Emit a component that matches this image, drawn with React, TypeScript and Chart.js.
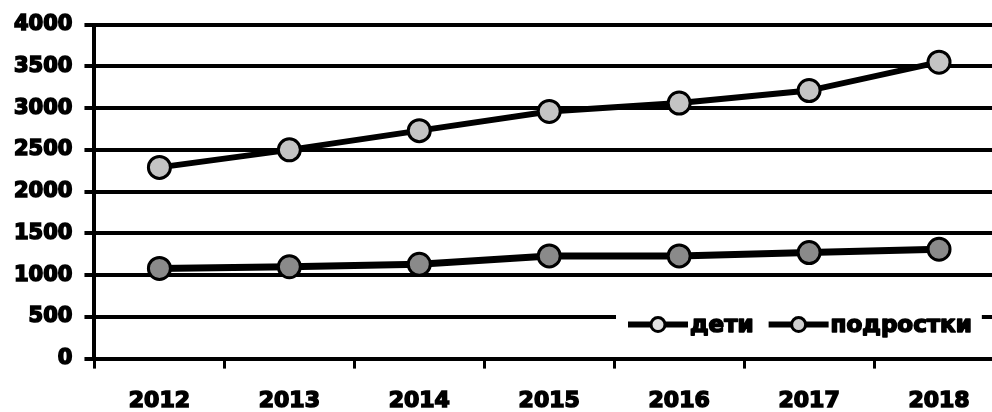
import React, { useEffect, useRef } from "react";
import { Chart, registerables } from "chart.js";

Chart.register(...registerables);

const years = ["2012", "2013", "2014", "2015", "2016", "2017", "2018"];
const deti = [2290, 2500, 2730, 2960, 3060, 3210, 3550];
const podrostki = [1080, 1100, 1130, 1230, 1230, 1270, 1310];
const seriesNames = ["дети", "подростки"];
const yTicks = [0, 500, 1000, 1500, 2000, 2500, 3000, 3500, 4000];

const FONT = "'DejaVu Sans', sans-serif";

const legendPlugin = {
  id: "insideLegend",
  afterDraw(chart: any) {
    const ctx = chart.ctx;
    const area = chart.chartArea;
    const cy = area.bottom - 34;
    ctx.save();
    ctx.font = `bold 23px ${FONT}`;
    const items = chart.data.datasets.map((ds: any) => ({
      label: ds.label,
      w: ctx.measureText(ds.label).width,
      fill: ds.legendFill,
    }));
    const lineLen = 60;
    const gap = 15;
    let total = 0;
    items.forEach((it: any, i: number) => {
      total += lineLen + 2 + it.w + (i < items.length - 1 ? gap : 0);
    });
    let x = 628;
    ctx.fillStyle = "#ffffff";
    ctx.fillRect(x - 12, cy - 16, total + 22, 32);
    items.forEach((it: any) => {
      ctx.strokeStyle = "#000";
      ctx.lineWidth = 6;
      ctx.beginPath();
      ctx.moveTo(x, cy);
      ctx.lineTo(x + lineLen, cy);
      ctx.stroke();
      ctx.beginPath();
      ctx.arc(x + lineLen / 2, cy, 7, 0, Math.PI * 2);
      ctx.fillStyle = it.fill;
      ctx.fill();
      ctx.lineWidth = 3;
      ctx.stroke();
      ctx.fillStyle = "#000";
      ctx.textBaseline = "middle";
      ctx.textAlign = "left";
      ctx.lineWidth = 1.6;
      ctx.lineJoin = "round";
      ctx.strokeText(it.label, x + lineLen + 2, cy + 1);
      ctx.fillText(it.label, x + lineLen + 2, cy + 1);
      x += lineLen + 2 + it.w + gap;
    });
    ctx.restore();
  },
};

export default function App() {
  const ref = useRef<HTMLCanvasElement>(null);
  useEffect(() => {
    if (!ref.current) return;
    const chart = new Chart(ref.current, {
      type: "line",
      data: {
        labels: years,
        datasets: [
          {
            label: seriesNames[0],
            data: deti,
            borderColor: "#000",
            borderWidth: 6,
            pointRadius: 11,
            pointBorderWidth: 3,
            pointBackgroundColor: "#c4c4c4",
            pointBorderColor: "#000",
            tension: 0,
            legendFill: "#e0e0e0",
          } as any,
          {
            label: seriesNames[1],
            data: podrostki,
            borderColor: "#000",
            borderWidth: 7,
            pointRadius: 11,
            pointBorderWidth: 3,
            pointBackgroundColor: "#8a8a8a",
            pointBorderColor: "#000",
            tension: 0,
            legendFill: "#d0d0d0",
          } as any,
        ],
      },
      options: {
        animation: false,
        responsive: true,
        maintainAspectRatio: false,
        layout: { padding: { left: 2, top: 16, right: 0, bottom: 0 } },
        plugins: { legend: { display: false }, tooltip: { enabled: false } },
        scales: {
          x: {
            offset: true,
            grid: {
              offset: true,
              drawOnChartArea: false,
              drawTicks: true,
              tickLength: 10,
              color: "#000",
              lineWidth: 3,
            },
            border: { color: "#000", width: 4 },
            ticks: {
              color: "#000",
              padding: 19,
              font: { family: FONT, size: 22, weight: "bold" },
              maxRotation: 0,
              textStrokeColor: "#000",
              textStrokeWidth: 1.6,
            },
          },
          y: {
            min: 0,
            max: 4000,
            afterBuildTicks: (scale: any) => {
              scale.ticks = yTicks.map((v) => ({ value: v }));
            },
            grid: { color: "#000", lineWidth: 4, tickLength: 10 },
            border: { color: "#000", width: 4 },
            ticks: {
              color: "#000",
              padding: 12,
              font: { family: FONT, size: 21, weight: "bold" },
              callback: (v: any) => String(v),
              textStrokeColor: "#000",
              textStrokeWidth: 1.6,
            },
          },
        },
      },
      plugins: [legendPlugin],
    });
    return () => chart.destroy();
  }, []);
  return (
    <div
      style={{
        position: "fixed",
        left: 0,
        top: 0,
        width: 992,
        height: 412,
        overflow: "hidden",
        background: "#fff",
      }}
    >
      <div style={{ position: "relative", width: 1018, height: 433 }}>
        <canvas ref={ref} />
      </div>
    </div>
  );
}
